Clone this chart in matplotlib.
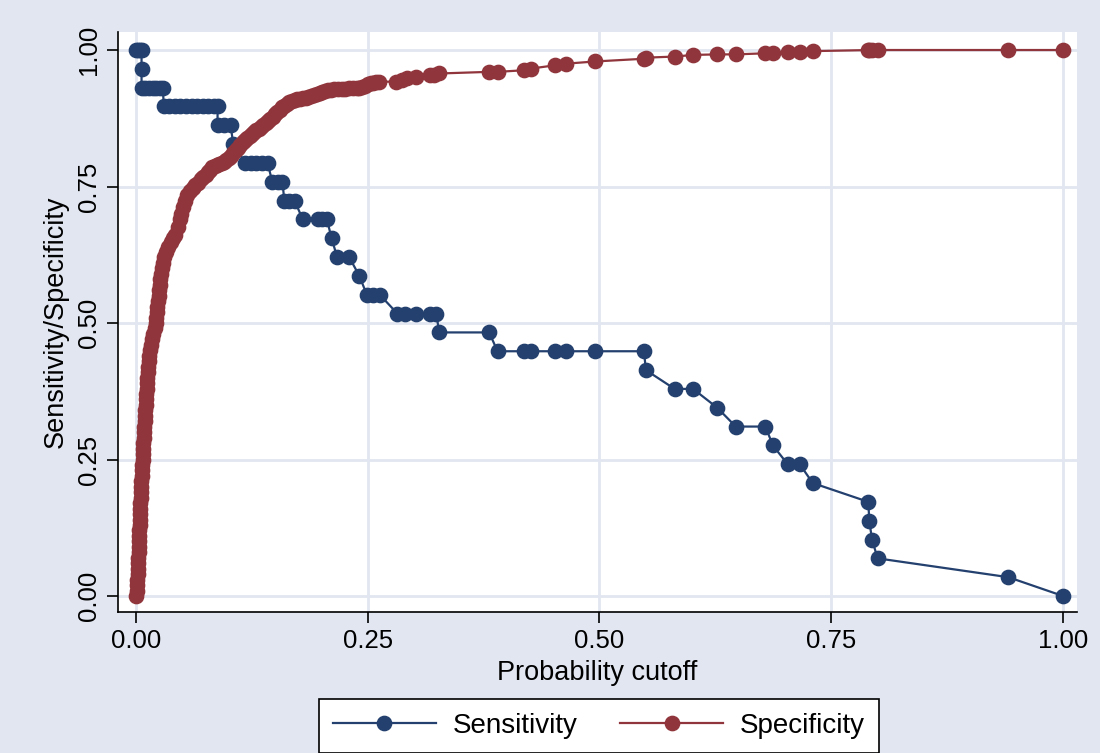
import matplotlib
matplotlib.use("Agg")
import matplotlib.pyplot as plt
from matplotlib.ticker import FixedLocator

# Sensitivity: each level k/29 with the cutoffs at which it is reached
n_pos = 29
sens_levels = [29, 28, 27, 26, 25, 24, 23, 22, 21, 20, 19, 18, 17, 16, 15,
               14, 13, 12, 11, 10, 9, 8, 7, 6, 5, 4, 3, 2, 1, 0]
sens_cutoffs = [
    [0.000, 0.002, 0.004, 0.006],
    [0.006],
    [0.006, 0.010, 0.014, 0.018, 0.022, 0.026, 0.029],
    [0.030, 0.036, 0.042, 0.048, 0.054, 0.060, 0.066, 0.072, 0.078, 0.084, 0.088],
    [0.088, 0.095, 0.102],
    [0.105],
    [0.118, 0.124, 0.130, 0.136, 0.142],
    [0.147, 0.153, 0.158],
    [0.160, 0.165, 0.171],
    [0.180, 0.196, 0.201, 0.206],
    [0.211],
    [0.217, 0.230],
    [0.241],
    [0.249, 0.256, 0.263],
    [0.282, 0.290, 0.302, 0.317, 0.324],
    [0.327, 0.381],
    [0.390, 0.419, 0.426, 0.452, 0.464, 0.495, 0.548],
    [0.550],
    [0.581, 0.601],
    [0.627],
    [0.647, 0.679],
    [0.687],
    [0.703, 0.716],
    [0.730],
    [0.790],
    [0.791],
    [0.794],
    [0.800],
    [0.941],
    [1.000],
]

# Specificity against the probability cutoff
spec_x = [
    0.0000, 0.0008, 0.0012, 0.0015, 0.0018, 0.0021, 0.0024, 0.0026, 0.0028, 0.0030,
    0.0032, 0.0035, 0.0037, 0.0039, 0.0041, 0.0043, 0.0045, 0.0048, 0.0050, 0.0053,
    0.0056, 0.0059, 0.0062, 0.0065, 0.0068, 0.0071, 0.0074, 0.0077, 0.0080, 0.0083,
    0.0086, 0.0090, 0.0093, 0.0097, 0.0100, 0.0104, 0.0108, 0.0112, 0.0116, 0.0120,
    0.0124, 0.0128, 0.0133, 0.0139, 0.0145, 0.0152, 0.0160, 0.0170, 0.0185, 0.0205,
    0.0212, 0.0218, 0.0224, 0.0230, 0.0236, 0.0243, 0.0250, 0.0257, 0.0264, 0.0272,
    0.0280, 0.0290, 0.0305, 0.0325, 0.0350, 0.0375, 0.0400, 0.0425, 0.0450, 0.0470,
    0.0490, 0.0510, 0.0530, 0.0555, 0.0580, 0.0610, 0.0640, 0.0670, 0.0700, 0.0725,
    0.0750, 0.0775, 0.0800, 0.0825, 0.0850, 0.0875, 0.0900, 0.0925, 0.0950, 0.0975,
    0.1000, 0.1025, 0.1050, 0.1075, 0.1100, 0.1125, 0.1150, 0.1175, 0.1200, 0.1225,
    0.1250, 0.1275, 0.1300, 0.1325, 0.1350, 0.1375, 0.1400, 0.1425, 0.1450, 0.1475,
    0.1500, 0.1525, 0.1550, 0.1575, 0.1600, 0.1625, 0.1650, 0.1680, 0.1710, 0.1740,
    0.1770, 0.1800, 0.1830, 0.1860, 0.1890, 0.1920, 0.1950, 0.1980, 0.2010, 0.2040,
    0.2070, 0.2100, 0.2140, 0.2180, 0.2220, 0.2260, 0.2300, 0.2340, 0.2380, 0.2410,
    0.2440, 0.2470, 0.2500, 0.2530, 0.2560, 0.2590, 0.2620,
    0.281, 0.287, 0.292, 0.302, 0.317, 0.322, 0.327, 0.381, 0.390, 0.419,
    0.426, 0.452, 0.464, 0.495, 0.548, 0.550, 0.581, 0.601, 0.627, 0.647,
    0.679, 0.687, 0.703, 0.716, 0.730, 0.790, 0.791, 0.794, 0.800, 0.941,
    1.000]
spec_y = [
    0.000, 0.010, 0.020, 0.030, 0.040, 0.050, 0.060, 0.070, 0.080, 0.090,
    0.100, 0.110, 0.120, 0.130, 0.140, 0.150, 0.160, 0.170, 0.180, 0.190,
    0.200, 0.210, 0.220, 0.230, 0.240, 0.250, 0.260, 0.270, 0.280, 0.290,
    0.300, 0.310, 0.320, 0.330, 0.340, 0.350, 0.360, 0.370, 0.380, 0.390,
    0.400, 0.410, 0.420, 0.430, 0.440, 0.450, 0.460, 0.470, 0.480, 0.490,
    0.500, 0.510, 0.520, 0.530, 0.540, 0.550, 0.560, 0.570, 0.580, 0.590,
    0.600, 0.610, 0.620, 0.630, 0.640, 0.648, 0.655, 0.662, 0.675, 0.690,
    0.700, 0.712, 0.724, 0.735, 0.742, 0.748, 0.752, 0.757, 0.763, 0.768,
    0.772, 0.777, 0.781, 0.785, 0.787, 0.789, 0.791, 0.793, 0.795, 0.798,
    0.802, 0.806, 0.811, 0.816, 0.821, 0.826, 0.831, 0.836, 0.839, 0.843,
    0.846, 0.849, 0.853, 0.856, 0.859, 0.863, 0.866, 0.870, 0.874, 0.878,
    0.882, 0.887, 0.891, 0.895, 0.898, 0.901, 0.904, 0.906, 0.908, 0.910,
    0.911, 0.912, 0.913, 0.914, 0.916, 0.918, 0.920, 0.922, 0.924, 0.925,
    0.926, 0.927, 0.928, 0.928, 0.928, 0.929, 0.930, 0.930, 0.930, 0.931,
    0.933, 0.935, 0.937, 0.939, 0.940, 0.941, 0.942,
    0.942, 0.945, 0.948, 0.951, 0.954, 0.955, 0.957, 0.960, 0.960, 0.963,
    0.966, 0.972, 0.975, 0.979, 0.984, 0.986, 0.988, 0.991, 0.992, 0.992,
    0.994, 0.994, 0.996, 0.997, 0.998, 1.000, 1.000, 1.000, 1.000, 1.000,
    1.000]

x_ticks = [0.0, 0.25, 0.5, 0.75, 1.0]
y_ticks = [0.0, 0.25, 0.5, 0.75, 1.0]
tick_labels = ["0.00", "0.25", "0.50", "0.75", "1.00"]

NAVY = "#23406e"
MAROON = "#90353b"
BG = "#e1e6f0"

plt.rcParams["font.family"] = ["Liberation Sans", "DejaVu Sans"]

sens_x, sens_y = [], []
for level, cuts in zip(sens_levels, sens_cutoffs):
    for c in cuts:
        sens_x.append(c)
        sens_y.append(level / n_pos)

fig = plt.figure(figsize=(11, 7.53), dpi=100, facecolor=BG)
ax = fig.add_axes([118 / 1100, 1 - 612 / 753, (1077 - 118) / 1100, (612 - 32) / 753])
ax.set_facecolor("white")

ax.plot(sens_x, sens_y, color=NAVY, lw=1.6, marker="o", ms=10.3,
        mfc=NAVY, mec=NAVY, label="Sensitivity", zorder=3)
ax.plot(spec_x, spec_y, color=MAROON, lw=1.6, marker="o", ms=10.3,
        mfc=MAROON, mec=MAROON, label="Specificity", zorder=4)

ax.set_xlim(-0.0194, 1.0151)
ax.set_ylim(-0.0293, 1.033)
ax.xaxis.set_major_locator(FixedLocator(x_ticks))
ax.yaxis.set_major_locator(FixedLocator(y_ticks))
ax.set_xticklabels(tick_labels)
ax.set_yticklabels(tick_labels, rotation=90, va="center")
ax.grid(True, color=BG, lw=2)
ax.set_axisbelow(True)

for side in ("top", "right"):
    ax.spines[side].set_visible(False)
for side in ("left", "bottom"):
    ax.spines[side].set_linewidth(1.2)
    ax.spines[side].set_color("black")

ax.tick_params(axis="both", direction="out", length=8, width=1.2,
               labelsize=18.5, pad=4)
ax.set_xlabel("Probability cutoff", fontsize=19.5, labelpad=5)
ax.set_ylabel("Sensitivity/Specificity", fontsize=19.5, labelpad=6)

leg = fig.legend(loc="center", bbox_to_anchor=(599 / 1100, 1 - 726 / 753),
                 ncol=2, fontsize=20, frameon=True, fancybox=False,
                 edgecolor="black", facecolor="white", framealpha=1,
                 numpoints=1, handlelength=3.7, handletextpad=0.6,
                 columnspacing=1.55, borderpad=0.5, borderaxespad=0)
leg.get_frame().set_linewidth(1.2)

fig.savefig("out.png", dpi=100, facecolor=BG)
